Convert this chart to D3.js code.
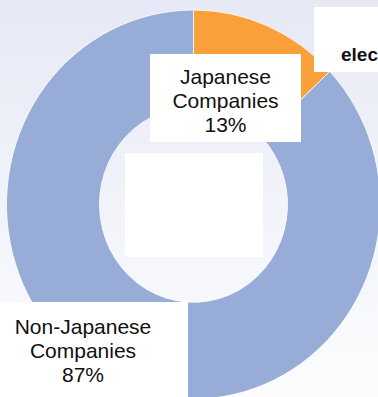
<!DOCTYPE html>
<html>
<head>
<meta charset="utf-8">
<script src="https://cdn.jsdelivr.net/npm/d3@7/dist/d3.min.js"></script>
<style>
  html, body { margin: 0; padding: 0; overflow: hidden; background: #fff; }
  svg { display: block; }
</style>
</head>
<body>
<svg id="chart" width="378" height="397"></svg>
<script>
// Share of companies by origin
const categories = ["Japanese Companies", "Non-Japanese Companies"];
const labelLines = [["Japanese", "Companies"], ["Non-Japanese", "Companies"]];
const shares = [13, 87];
const colors = ["#f9a03a", "#98acd8"];
const headerText = "elec";

const W = 378, H = 397;
const cx = 193.5, cy = 204.5;
const rOuter = 187, rInner = 94, yStretch = 1.04;

const svg = d3.select("#chart");

// soft lavender-to-white page background
const defs = svg.append("defs");
const grad = defs.append("linearGradient")
  .attr("id", "bg").attr("x1", 0).attr("y1", 0).attr("x2", 0).attr("y2", 1);
grad.append("stop").attr("offset", "0%").attr("stop-color", "#e6e9f5");
grad.append("stop").attr("offset", "70%").attr("stop-color", "#f6f7fb");
grad.append("stop").attr("offset", "100%").attr("stop-color", "#fcfcfe");
svg.append("rect").attr("width", W).attr("height", H).attr("fill", "url(#bg)");

// doughnut
const pie = d3.pie().sort(null).value(d => d)(shares);
const arc = d3.arc().innerRadius(rInner).outerRadius(rOuter);
const color = d3.scaleOrdinal().domain(categories).range(colors);

svg.append("g")
  .attr("transform", `translate(${cx},${cy}) scale(1,${yStretch})`)
  .selectAll("path")
  .data(pie)
  .join("path")
  .attr("d", arc)
  .attr("fill", (d, i) => color(categories[i]))
  .attr("stroke", "#ffffff")
  .attr("stroke-width", 0.8);

// label boxes
const fontFamily = "'Liberation Sans', Arial, Helvetica, sans-serif";
const labelBoxes = [
  { x: 150, y: 54, w: 151, h: 88, tx: 225.5, ty: 83.5 },
  { x: -30, y: 302, w: 218, h: 120, tx: 83, ty: 333.5 }
];
const pct = d3.format(".0%");
const total = d3.sum(shares);

labelBoxes.forEach((b, i) => {
  svg.append("rect")
    .attr("x", b.x).attr("y", b.y).attr("width", b.w).attr("height", b.h)
    .attr("fill", "#ffffff");
  const t = svg.append("text")
    .attr("text-anchor", "middle")
    .attr("font-family", fontFamily)
    .attr("font-size", 21)
    .attr("fill", "#111");
  labelLines[i].concat([pct(shares[i] / total)]).forEach((line, j) => {
    t.append("tspan").attr("x", b.tx).attr("y", b.ty + j * 24).text(line);
  });
});

// empty centre panel
svg.append("rect")
  .attr("x", 125).attr("y", 153).attr("width", 138).attr("height", 104)
  .attr("fill", "#ffffff");

// header box at top right
svg.append("rect")
  .attr("x", 314).attr("y", 7).attr("width", 80).attr("height", 65)
  .attr("fill", "#ffffff");
svg.append("text")
  .attr("x", 341).attr("y", 60.5)
  .attr("font-family", fontFamily)
  .attr("font-size", 19)
  .attr("font-weight", "bold")
  .attr("fill", "#111")
  .text(headerText);
</script>
</body>
</html>
